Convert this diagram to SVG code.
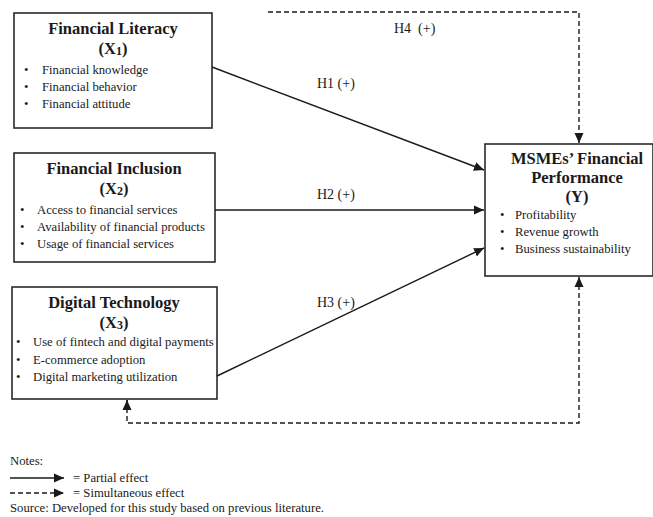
<svg xmlns="http://www.w3.org/2000/svg" width="653" height="517" viewBox="0 0 653 517">
<style>
text{font-family:"Liberation Serif","Times New Roman",serif;fill:#1a1a1a}
.box{fill:#fff;stroke:#2a2a2a;stroke-width:1.6}
.t{font-size:16.5px;font-weight:bold;text-anchor:middle}
.it{font-size:12.7px}
.lab{font-size:14px}
.sol{stroke:#1a1a1a;stroke-width:1.4;fill:none}
.dash{stroke:#1a1a1a;stroke-width:1.4;fill:none;stroke-dasharray:5,3}
</style>
<defs>
<marker id="ah" viewBox="0 0 10 10" refX="10" refY="5" markerWidth="10" markerHeight="10" markerUnits="userSpaceOnUse" orient="auto">
<path d="M0,0.5 L10,5 L0,9.5 z" fill="#1a1a1a"/>
</marker>
</defs>
<rect width="653" height="517" fill="#fff"/>
<g id="x1">
<rect class="box" x="14" y="13" width="198" height="115"/>
<text class="t" x="113" y="34">Financial Literacy</text>
<text class="t" x="113" y="54">(X<tspan font-size="12" dy="1">1</tspan><tspan dy="-1">)</tspan></text>
<text class="it" x="24" y="74">•</text><text class="it" x="42" y="74">Financial knowledge</text>
<text class="it" x="24" y="91">•</text><text class="it" x="42" y="91">Financial behavior</text>
<text class="it" x="24" y="108">•</text><text class="it" x="42" y="108">Financial attitude</text>
</g>
<g id="x2">
<rect class="box" x="14" y="153" width="201" height="109"/>
<text class="t" x="114" y="174">Financial Inclusion</text>
<text class="t" x="114" y="194">(X<tspan font-size="12" dy="1">2</tspan><tspan dy="-1">)</tspan></text>
<text class="it" x="20" y="214">•</text><text class="it" x="37" y="214">Access to financial services</text>
<text class="it" x="20" y="231">•</text><text class="it" x="37" y="231">Availability of financial products</text>
<text class="it" x="20" y="248">•</text><text class="it" x="37" y="248">Usage of financial services</text>
</g>
<g id="x3">
<rect class="box" x="12" y="287" width="205" height="112"/>
<text class="t" x="114" y="308">Digital Technology</text>
<text class="t" x="114" y="328">(X<tspan font-size="12" dy="1">3</tspan><tspan dy="-1">)</tspan></text>
<text class="it" x="16" y="346">•</text><text class="it" x="33" y="346">Use of fintech and digital payments</text>
<text class="it" x="16" y="364">•</text><text class="it" x="33" y="364">E-commerce adoption</text>
<text class="it" x="16" y="381">•</text><text class="it" x="33" y="381">Digital marketing utilization</text>
</g>
<g id="y">
<rect class="box" x="485" y="144" width="168" height="132"/>
<text class="t" x="577" y="164">MSMEs’ Financial</text>
<text class="t" x="577" y="183">Performance</text>
<text class="t" x="577" y="202">(Y)</text>
<text class="it" x="500" y="219">•</text><text class="it" x="515" y="219">Profitability</text>
<text class="it" x="500" y="236">•</text><text class="it" x="515" y="236">Revenue growth</text>
<text class="it" x="500" y="253">•</text><text class="it" x="515" y="253">Business sustainability</text>
</g>
<g id="connectors">
<line class="sol" x1="212" y1="67" x2="484" y2="170" marker-end="url(#ah)"/>
<line class="sol" x1="215" y1="210" x2="484" y2="210" marker-end="url(#ah)"/>
<line class="sol" x1="217" y1="376" x2="484" y2="248" marker-end="url(#ah)"/>
<polyline class="dash" points="268,12 579,12 579,143" marker-end="url(#ah)"/>
<polyline class="dash" points="127,400 127,423 579,423 579,277" marker-end="url(#ah)"/>
<line class="dash" x1="127" y1="410" x2="127" y2="400" stroke-dasharray="none" marker-end="url(#ah)"/>
<text class="lab" x="317" y="88">H1 (+)</text>
<text class="lab" x="317" y="199">H2 (+)</text>
<text class="lab" x="317" y="307">H3 (+)</text>
<text class="lab" x="394" y="33" xml:space="preserve">H4  (+)</text>
</g>
<g id="legend">
<text class="it" x="10" y="465">Notes:</text>
<line class="sol" x1="10" y1="478" x2="64" y2="478" marker-end="url(#ah)"/>
<text class="it" x="73" y="482">= Partial effect</text>
<line class="dash" x1="10" y1="493" x2="64" y2="493" stroke-dasharray="4,3" marker-end="url(#ah)"/>
<text class="it" x="73" y="497">= Simultaneous effect</text>
<text class="it" x="10" y="512">Source: Developed for this study based on previous literature.</text>
</g>
</svg>
